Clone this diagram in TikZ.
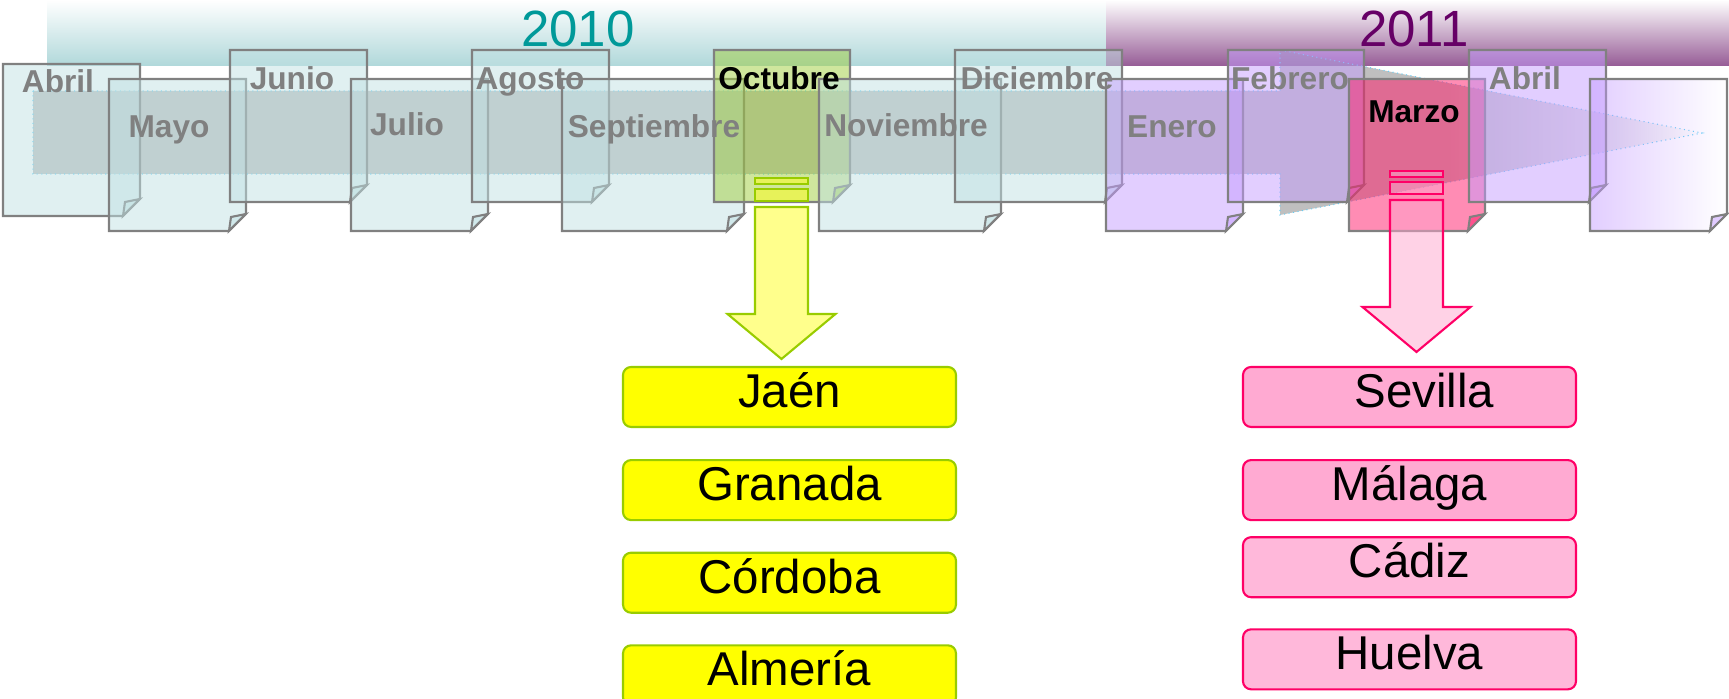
\documentclass[tikz,border=0pt]{standalone}
\usepackage{fontspec}
\setmainfont{Liberation Sans}
\usepackage{tikz}
\usetikzlibrary{positioning,fadings}
\definecolor{hojagris}{RGB}{128,128,128}
\definecolor{verdeazul}{RGB}{193,225,227}
\definecolor{verdeoct}{RGB}{160,205,60}
\definecolor{lila}{RGB}{197,157,255}
\definecolor{rosamar}{RGB}{255,25,105}
\definecolor{banda10}{RGB}{176,216,218}
\definecolor{banda11}{RGB}{150,92,150}
\definecolor{anio10}{RGB}{0,153,153}
\definecolor{anio11}{RGB}{102,0,102}
\definecolor{amarillo}{RGB}{255,255,0}
\definecolor{amarilloflecha}{RGB}{255,255,25}
\definecolor{bordeverde}{RGB}{153,204,0}
\definecolor{rosa}{RGB}{255,170,210}
\definecolor{rosaclaro}{RGB}{255,184,218}
\definecolor{rosaflecha}{RGB}{255,165,205}
\definecolor{bordero}{RGB}{255,0,102}
\tikzset{
    hoja/.style = {
       draw=hojagris, line width=.6pt,
       fill opacity=.5
    },
    mes/.style = {
       text=hojagris, inner sep=0pt,
       font=\fontsize{9}{9}\selectfont\bfseries,
       text height=6.5pt, text depth=0pt
    },
    mesactivo/.style = {mes, text=black},
    anio/.style = {
       inner sep=0pt,
       font=\fontsize{14.5}{14.5}\selectfont
    },
    provincia/.style = {
       shape=rectangle, rounded corners=2.3pt,
       align=center, inner sep=0pt,
       minimum width = 33.3mm,
       minimum height = 6mm,
       line width=.6pt,
       font=\fontsize{13.5}{13.5}\selectfont,
       text height=8pt, text depth=2pt
    },
    Anode/.style = {provincia, draw=bordeverde, fill=amarillo},
    Rnode/.style = {provincia, draw=bordero, fill=rosa},
    flechaA/.style = {draw=bordeverde, line width=.6pt, fill=amarilloflecha, fill opacity=.5},
    flechaR/.style = {draw=bordero, line width=.6pt, fill=rosaflecha, fill opacity=.5}
}
% hoja con esquina doblada: nombre, x, y, ancho, color
\newcommand{\hoja}[5]{%
   \draw[hoja, fill=#5] (#2,#3) -- ++(#4,0) -- ++(0,135) -- ++(-17,17) -- ++(17-#4,0) -- cycle;
   \draw[hoja, fill=#5] (#2+#4-17,#3+152) -- ++(2,-14) -- ++(15,-3) -- cycle;
   \coordinate (#1) at (#2+#4/2,#3+152);
}
% flecha de bloque: coordenada de arriba, estilo
\newcommand{\bloque}[2]{%
   \begin{scope}[shift={(#1)}]
      \draw[#2] (-26.5,0) rectangle (26.5,6);
      \draw[#2] (-26.5,11) rectangle (26.5,23);
      \draw[#2] (-26.5,29) -- (-26.5,136) -- (-54,136) -- (0,181) -- (54,136) -- (26.5,136) -- (26.5,29) -- cycle;
   \end{scope}
}

\begin{document}
\begin{tikzpicture}[x=.1mm,y=-.1mm]
   \useasboundingbox (0,0) rectangle (1729,699);
   \shade[top color=white, middle color=banda10!35, bottom color=banda10] (47,0) rectangle (1108,66);
   \shade[top color=white, middle color=banda11!35, bottom color=banda11] (1106,0) rectangle (1729,66);
   \node[anio, text=anio10] (Anio2010) at (578,28.5) {2010};
   \node[anio, text=anio11] (Anio2011) at (1414,28.5) {2011};
   % flecha gris del tiempo
   \begin{scope}
      \clip (33,91) -- (1280,91) -- (1280,50) -- (1702,133) -- (1280,215) -- (1280,174) -- (33,174) -- cycle;
      \fill[gray, fill opacity=.5] (30,40) rectangle (1450,220);
      \fill[gray, fill opacity=.5, path fading=east] (1450,40) rectangle (1705,220);
   \end{scope}
   \draw[cyan!60, densely dotted, line width=.3pt] (33,91) -- (1280,91) -- (1280,50) -- (1702,133) -- (1280,215) -- (1280,174) -- (33,174) -- cycle;
   % hojas 2010
   \hoja{HAbril}{3}{64}{137}{verdeazul}
   \hoja{HMayo}{109}{79}{137}{verdeazul}
   \hoja{HJunio}{230}{50}{137}{verdeazul}
   \hoja{HJulio}{351}{79}{137}{verdeazul}
   \hoja{HAgosto}{472}{50}{137}{verdeazul}
   \hoja{HSeptiembre}{562}{79}{182}{verdeazul}
   \hoja{HOctubre}{714}{50}{136}{verdeoct}
   \hoja{HNoviembre}{819}{79}{182}{verdeazul}
   \hoja{HDiciembre}{955}{50}{167}{verdeazul}
   % hojas 2011
   \hoja{HEnero}{1106}{79}{137}{lila}
   \hoja{HFebrero}{1228}{50}{136}{lila}
   \hoja{HMarzo}{1349}{79}{136}{rosamar}
   \hoja{HAbrilB}{1469}{50}{137}{lila}
   \fill[lila, fill opacity=.5, path fading=east] (1590,79) -- ++(137,0) -- ++(0,135) -- ++(-17,17) -- ++(-120,0) -- cycle;
   \draw[draw=hojagris, line width=.6pt] (1590,79) -- ++(137,0) -- ++(0,135) -- ++(-17,17) -- ++(-120,0) -- cycle;
   \draw[hoja, fill=lila] (1710,231) -- ++(2,-14) -- ++(15,-3) -- cycle;
   % meses
   \node[mes] (Abril) at (58,81) {Abril};
   \node[mes] (Mayo) at (169,126.5) {Mayo};
   \node[mes] (Junio) at (292,78.5) {Junio};
   \node[mes] (Julio) at (407,124.5) {Julio};
   \node[mes] (Agosto) at (530,78.5) {Agosto};
   \node[mes] (Septiembre) at (654,126) {Septiembre};
   \node[mesactivo] (Octubre) at (779,78.5) {Octubre};
   \node[mes] (Noviembre) at (906,125) {Noviembre};
   \node[mes] (Diciembre) at (1037,78.5) {Diciembre};
   \node[mes] (Enero) at (1172,126.5) {Enero};
   \node[mes] (Febrero) at (1290,78.5) {Febrero};
   \node[mesactivo] (Marzo) at (1414,111.5) {Marzo};
   \node[mes] (AbrilB) at (1525,78.5) {Abril};
   % flechas
   \coordinate (FlechaOct) at (781.5,178);
   \coordinate (FlechaMar) at (1416.5,171);
   \bloque{FlechaOct}{flechaA}
   \bloque{FlechaMar}{flechaR}
   % provincias
   \node[Anode] (Jaen) at (789.5,397) {Jaén};
   \node[Anode] (Granada) [below = 3.1mm of Jaen] {Granada};
   \node[Anode] (Cordoba) [below = 3.05mm of Granada] {Córdoba};
   \node[Anode] (Almeria) [below = 3.05mm of Cordoba] {Almería};
   \node[Rnode] (Sevilla) at (1409.5,397) {\hspace*{3mm}Sevilla};
   \node[Rnode] (Malaga) [below = 3.1mm of Sevilla] {Málaga};
   \node[Rnode, fill=rosaclaro] (Cadiz) [below = 1.5mm of Malaga] {Cádiz};
   \node[Rnode, fill=rosaclaro] (Huelva) [below = 3mm of Cadiz] {Huelva};
\end{tikzpicture}
\end{document}
